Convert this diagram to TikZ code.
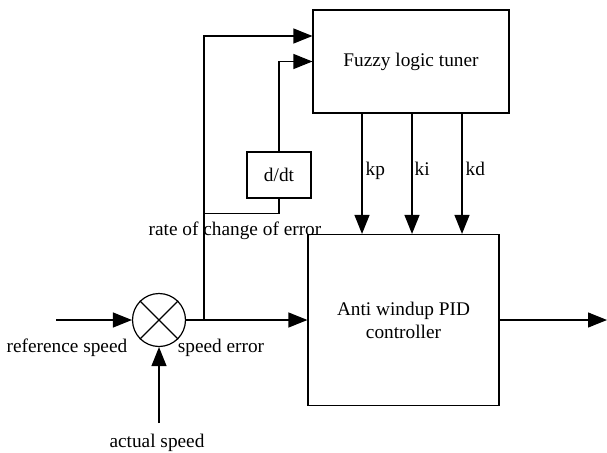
\documentclass[tikz,border=0pt]{standalone}
\usepackage{fontspec}
\setmainfont{Liberation Serif}
\usetikzlibrary{arrows.meta}
\begin{document}
\begin{tikzpicture}[x=1pt,y=-1pt,
  line width=1.2pt,
  blk/.style={draw, inner sep=0pt, font=\fontsize{19.3}{23}\selectfont, align=center},
  lbl/.style={inner sep=0pt, anchor=base, font=\fontsize{19.3}{23}\selectfont},
  arr/.style={-{Triangle[length=19pt,width=15pt]}}]
\useasboundingbox (0,0) rectangle (607,452);

\node[blk, minimum width=196pt, minimum height=103pt] (fuzzy) at (411,61.5) {Fuzzy logic tuner};
\node[blk, minimum width=191pt, minimum height=171pt] (pid) at (403.5,320) {Anti windup PID\\controller};
\node[blk, minimum width=64pt, minimum height=46pt] (ddt) at (279,175) {d/dt};
\node[draw, circle, minimum size=53pt, inner sep=0pt] (sum) at (159,320) {};
\draw (sum.north west) -- (sum.south east);
\draw (sum.north east) -- (sum.south west);

\coordinate (in) at (56,320);
\coordinate (act) at (159,423);
\coordinate (j) at (204,320);
\coordinate (out) at (607,320);
\path (fuzzy.west) ++(0,-25.5) coordinate (f1);

\draw[arr] (in) -- (sum.west);
\draw[arr] (act) -- (sum.south);
\draw[arr] (sum.east) -- (pid.west);
\draw[arr] (pid.east) -- (out);
\draw[arr] (j) |- (f1);
\draw[arr] (ddt.north) |- (fuzzy.west);
\draw (ddt.south) -- ++(0,15) -| (j);

\path ([xshift=-49pt]fuzzy.south) coordinate (kptop);
\path ([xshift=1pt]fuzzy.south) coordinate (kitop);
\path ([xshift=51pt]fuzzy.south) coordinate (kdtop);
\draw[arr] (kptop) -- (kptop |- pid.north);
\draw[arr] (kitop) -- (kitop |- pid.north);
\draw[arr] (kdtop) -- (kdtop |- pid.north);

\node[lbl, anchor=base west] (kpl) at (365,175) {kp};
\node[lbl, anchor=base west] (kil) at (414,175) {ki};
\node[lbl, anchor=base west] (kdl) at (465,175) {kd};

\node[lbl] (refl) at (67,352) {reference speed};
\node[lbl] (errl) at (221,352) {speed error};
\node[lbl] (actl) at (157,447) {actual speed};
\node[lbl] (ratel) at (235,235) {rate of change of error};
\end{tikzpicture}
\end{document}
